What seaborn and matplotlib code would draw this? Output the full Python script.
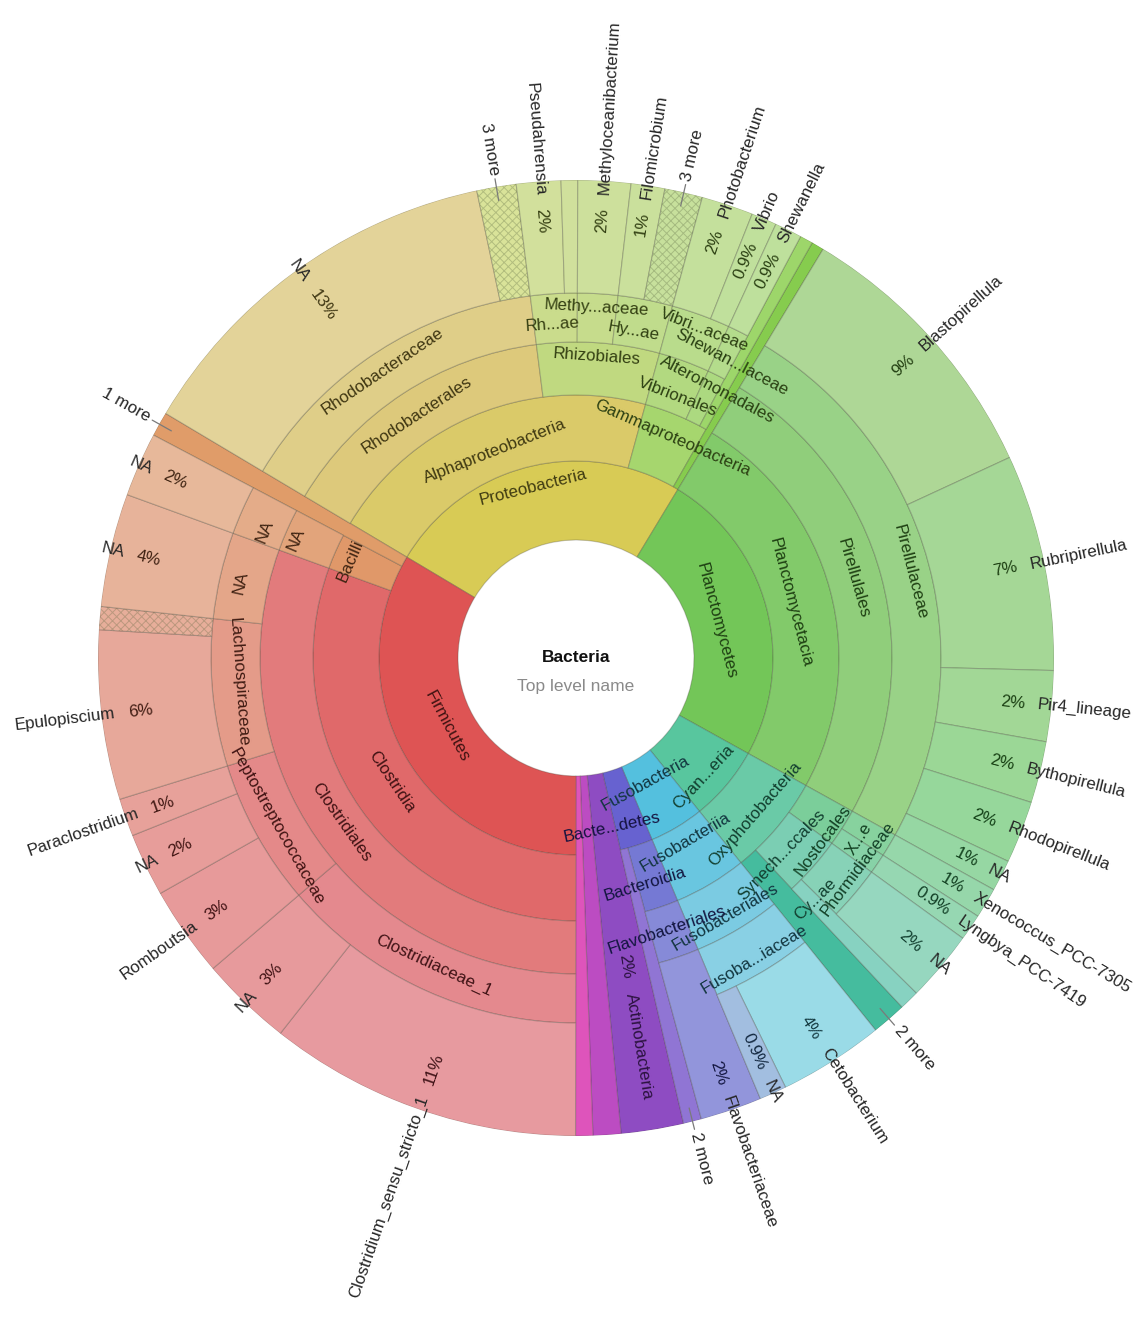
import colorsys
import numpy as np
import matplotlib
matplotlib.use("Agg")
import matplotlib.pyplot as plt
import seaborn as sns

# ── Krona-style taxonomy: leaves listed clockwise from the Proteobacteria edge ──
LEAF_PATHS = [
    ("Proteobacteria", "Alphaproteobacteria", "Rhodobacterales", "Rhodobacteraceae", "NA"),
    ("Proteobacteria", "Alphaproteobacteria", "Rhodobacterales", "Rhodobacteraceae", "3 more"),
    ("Proteobacteria", "Alphaproteobacteria", "Rhizobiales", "Rhodobiaceae", "Pseudahrensia"),
    ("Proteobacteria", "Alphaproteobacteria", "Rhizobiales", "Rhodobiaceae", "-"),
    ("Proteobacteria", "Alphaproteobacteria", "Rhizobiales", "Methyloligellaceae", "Methyloceanibacterium"),
    ("Proteobacteria", "Alphaproteobacteria", "Rhizobiales", "Hyphomicrobiaceae", "Filomicrobium"),
    ("Proteobacteria", "Alphaproteobacteria", "Rhizobiales", "Hyphomicrobiaceae", "3 more"),
    ("Proteobacteria", "Gammaproteobacteria", "Vibrionales", "Vibrionaceae", "Photobacterium"),
    ("Proteobacteria", "Gammaproteobacteria", "Vibrionales", "Vibrionaceae", "Vibrio"),
    ("Proteobacteria", "Gammaproteobacteria", "Alteromonadales", "Shewanellaceae", "Shewanella"),
    ("Proteobacteria", "Gammaproteobacteria", "-"),
    ("Proteobacteria", "-"),
    ("Planctomycetes", "Planctomycetacia", "Pirellulales", "Pirellulaceae", "Blastopirellula"),
    ("Planctomycetes", "Planctomycetacia", "Pirellulales", "Pirellulaceae", "Rubripirellula"),
    ("Planctomycetes", "Planctomycetacia", "Pirellulales", "Pirellulaceae", "Pir4_lineage"),
    ("Planctomycetes", "Planctomycetacia", "Pirellulales", "Pirellulaceae", "Bythopirellula"),
    ("Planctomycetes", "Planctomycetacia", "Pirellulales", "Pirellulaceae", "Rhodopirellula"),
    ("Planctomycetes", "Planctomycetacia", "Pirellulales", "Pirellulaceae", "NA"),
    ("Cyanobacteria", "Oxyphotobacteria", "Nostocales", "Xenococcaceae", "Xenococcus_PCC-7305"),
    ("Cyanobacteria", "Oxyphotobacteria", "Nostocales", "Phormidiaceae", "Lyngbya_PCC-7419"),
    ("Cyanobacteria", "Oxyphotobacteria", "Synechococcales", "Cyanobiaceae", "NA"),
    ("Cyanobacteria", "Oxyphotobacteria", "Synechococcales", "-"),
    ("Cyanobacteria", "Oxyphotobacteria", "2 more"),
    ("Fusobacteria", "Fusobacteriia", "Fusobacteriales", "Fusobacteriaceae", "Cetobacterium"),
    ("Fusobacteria", "Fusobacteriia", "Fusobacteriales", "Fusobacteriaceae", "NA"),
    ("Bacteroidetes", "Bacteroidia", "Flavobacteriales", "Flavobacteriaceae"),
    ("Bacteroidetes", "2 more"),
    ("Actinobacteria",),
    ("unclassified_1",),
    ("unclassified_2",),
    ("Firmicutes", "Clostridia", "Clostridiales", "Clostridiaceae_1", "Clostridium_sensu_stricto_1"),
    ("Firmicutes", "Clostridia", "Clostridiales", "Clostridiaceae_1", "NA"),
    ("Firmicutes", "Clostridia", "Clostridiales", "Peptostreptococcaceae", "Romboutsia"),
    ("Firmicutes", "Clostridia", "Clostridiales", "Peptostreptococcaceae", "NA"),
    ("Firmicutes", "Clostridia", "Clostridiales", "Peptostreptococcaceae", "Paraclostridium"),
    ("Firmicutes", "Clostridia", "Clostridiales", "Lachnospiraceae", "Epulopiscium"),
    ("Firmicutes", "Clostridia", "Clostridiales", "Lachnospiraceae", "-"),
    ("Firmicutes", "Clostridia", "Clostridiales", "NA", "NA"),
    ("Firmicutes", "Bacilli", "NA", "NA", "NA"),
    ("Firmicutes", "1 more"),
]

# share of all reads, in percent
LEAF_VALUES = [
    13.11, 1.33, 1.50, 0.56, 1.78, 1.14, 1.28, 1.75, 0.86, 0.92, 0.44, 0.42,
    9.45, 7.31, 2.39, 2.08, 2.11, 1.06,
    1.03, 0.89, 2.39, 0.67, 1.17,
    3.56, 0.92,
    2.08, 0.61,
    2.11, 0.94, 0.58,
    10.60, 3.12, 3.06, 2.14, 1.28, 5.72, 0.78, 3.83, 2.17, 0.83,
]

# how each leaf is labelled: outer name + %, "N more" leader, inside text, nothing
LEAF_KIND = [
    "name", "more", "name", "none", "name", "name", "more", "name", "name", "name", "none", "none",
    "name", "name", "name", "name", "name", "name",
    "name", "name", "name", "none", "more",
    "name", "name",
    "name", "more",
    "inside", "none", "none",
    "name", "name", "name", "name", "name", "name", "none", "name", "name", "more",
]

HATCHED = [1, 6, 36]

# Krona shortens names that do not fit their wedge
SHORT_NAMES = {
    ("Proteobacteria", "Alphaproteobacteria", "Rhizobiales", "Rhodobiaceae"): "Rh...ae",
    ("Proteobacteria", "Alphaproteobacteria", "Rhizobiales", "Methyloligellaceae"): "Methy...aceae",
    ("Proteobacteria", "Alphaproteobacteria", "Rhizobiales", "Hyphomicrobiaceae"): "Hy...ae",
    ("Proteobacteria", "Gammaproteobacteria", "Vibrionales", "Vibrionaceae"): "Vibri...aceae",
    ("Proteobacteria", "Gammaproteobacteria", "Alteromonadales", "Shewanellaceae"): "Shewan...laceae",
    ("Cyanobacteria",): "Cyan...eria",
    ("Cyanobacteria", "Oxyphotobacteria", "Synechococcales"): "Synech...ccales",
    ("Cyanobacteria", "Oxyphotobacteria", "Synechococcales", "Cyanobiaceae"): "Cy...ae",
    ("Cyanobacteria", "Oxyphotobacteria", "Nostocales", "Xenococcaceae"): "X...e",
    ("Fusobacteria", "Fusobacteriia", "Fusobacteriales", "Fusobacteriaceae"): "Fusoba...iaceae",
    ("Bacteroidetes",): "Bacte...detes",
}

# ── layout ────────────────────────────────────────────────────────────────
RINGS = [118, 197, 263, 316, 365, 478]      # ring edges in pixels
START = 300.8                                 # compass angle of the first leaf
PCT_R, NAME_R = 451, 464
FS = 12.2

# where Krona put the inner labels (compass angle, radius)
LABEL_AT = {
    ("Proteobacteria",): (345.9, 176),
    ("Planctomycetes",): (75, 145),
    ("Firmicutes",): (242, 146),
    ("Cyanobacteria",): (133, 174),
    ("Fusobacteria",): (151, 143),
    ("Bacteroidetes",): (168, 173),
    ("Proteobacteria", "Alphaproteobacteria"): (338.5, 222),
    ("Proteobacteria", "Gammaproteobacteria"): (23.7, 240),
    ("Planctomycetes", "Planctomycetacia"): (75.4, 222),
    ("Firmicutes", "Clostridia"): (236, 222),
    ("Firmicutes", "Bacilli"): (293.4, 246),
    ("Cyanobacteria", "Oxyphotobacteria"): (131, 238),
    ("Fusobacteria", "Fusobacteriia"): (149.4, 214),
    ("Bacteroidetes", "Bacteroidia"): (163, 237),
    ("Proteobacteria", "Alphaproteobacteria", "Rhodobacterales"): (326.8, 290),
    ("Proteobacteria", "Alphaproteobacteria", "Rhizobiales"): (4, 302),
    ("Proteobacteria", "Gammaproteobacteria", "Vibrionales"): (21.2, 280),
    ("Proteobacteria", "Gammaproteobacteria", "Alteromonadales"): (27.8, 303),
    ("Planctomycetes", "Planctomycetacia", "Pirellulales"): (74, 288),
    ("Firmicutes", "Clostridia", "Clostridiales"): (235, 286),
    ("Firmicutes", "Bacilli", "NA"): (293, 304),
    ("Cyanobacteria", "Oxyphotobacteria", "Synechococcales"): (133.7, 285),
    ("Cyanobacteria", "Oxyphotobacteria", "Nostocales"): (126.4, 307),
    ("Fusobacteria", "Fusobacteriia", "Fusobacteriales"): (150, 299),
    ("Bacteroidetes", "Bacteroidia", "Flavobacteriales"): (161.5, 287),
    ("Proteobacteria", "Alphaproteobacteria", "Rhodobacterales", "Rhodobacteraceae"): (326, 346),
    ("Proteobacteria", "Alphaproteobacteria", "Rhizobiales", "Rhodobiaceae"): (356, 334),
    ("Proteobacteria", "Alphaproteobacteria", "Rhizobiales", "Methyloligellaceae"): (3.3, 351),
    ("Proteobacteria", "Alphaproteobacteria", "Rhizobiales", "Hyphomicrobiaceae"): (10, 332),
    ("Proteobacteria", "Gammaproteobacteria", "Vibrionales", "Vibrionaceae"): (21.4, 352),
    ("Proteobacteria", "Gammaproteobacteria", "Alteromonadales", "Shewanellaceae"): (27.9, 334),
    ("Planctomycetes", "Planctomycetacia", "Pirellulales", "Pirellulaceae"): (75.5, 345),
    ("Firmicutes", "Clostridia", "Clostridiales", "Clostridiaceae_1"): (204.8, 339),
    ("Firmicutes", "Clostridia", "Clostridiales", "Peptostreptococcaceae"): (240.6, 343),
    ("Firmicutes", "Clostridia", "Clostridiales", "Lachnospiraceae"): (266, 338),
    ("Firmicutes", "Clostridia", "Clostridiales", "NA"): (282.6, 344),
    ("Firmicutes", "Bacilli", "NA", "NA"): (292.2, 336),
    ("Fusobacteria", "Fusobacteriia", "Fusobacteriales", "Fusobacteriaceae"): (149.3, 350),
    ("Cyanobacteria", "Oxyphotobacteria", "Synechococcales", "Cyanobiaceae"): (135.2, 340),
    ("Cyanobacteria", "Oxyphotobacteria", "Nostocales", "Xenococcaceae"): (122.5, 336),
    ("Cyanobacteria", "Oxyphotobacteria", "Nostocales", "Phormidiaceae"): (126.7, 352),
}

# hue as a function of (unwrapped) compass angle, as in the Krona colouring
HUE_T = [180, 200, 220, 240, 255, 270, 285, 300, 320, 335, 346, 351, 370, 390, 420, 460, 479,
         490, 501, 510, 518, 523, 531, 536, 540]
HUE_H = [350, 356, 358, 360, 368, 374, 380, 386, 406, 410, 414, 430, 440, 452, 462, 470, 495,
         518, 535, 555, 580, 608, 634, 655, 682]
LIGHT = [0.60, 0.645, 0.685, 0.715, 0.755]
SAT = [0.68, 0.66, 0.64, 0.63, 0.62]
COLOR_OVERRIDE = {
    ("Proteobacteria", "-"): "#86cc4e",
    ("Proteobacteria", "Gammaproteobacteria", "-"): "#9dd66a",
    ("Cyanobacteria", "Oxyphotobacteria", "2 more"): "#45bc9e",
}


def node_hue(center):
    t = center if center < 540 else center - 360
    return np.interp(t, HUE_T, HUE_H) % 360


def node_color(depth, center):
    h = node_hue(center)
    s, l = SAT[depth - 1], LIGHT[depth - 1]
    if 95 <= h < 170:          # greens read lighter, Krona keeps them darker
        s, l = s * 0.72, l - 0.04
    elif 70 < h < 95:
        s, l = s * 0.84, l - 0.01
    elif 45 <= h <= 70:
        s, l = s * 0.92, l - 0.01
    elif 205 < h < 260:
        s = s * 0.8
    elif 260 <= h < 300:
        s, l = s * 0.72, l - 0.07
    return colorsys.hls_to_rgb(h / 360, l, s)


def text_color(center):
    return colorsys.hls_to_rgb(node_hue(center) / 360, 0.16, 0.55)


def tangential_rot(th):
    rot = (-th) % 180
    return rot - 180 if rot > 90 else rot


def radial_rot(th):
    th = th % 360
    if th < 180:
        return 90 - th, True
    return 270 - th, False


def pct_text(v):
    return f"{v:.1f}%" if v < 1 else f"{int(v + 0.5)}%"


sns.set_theme(style="white")
plt.rcParams["font.family"] = ["Liberation Sans", "DejaVu Sans"]
plt.rcParams["hatch.linewidth"] = 0.7

# ── angular extent of every node ──────────────────────────────────────────
scale = 360.0 / sum(LEAF_VALUES)
spans = {}
pos = START
leaf_span = []
for path, v in zip(LEAF_PATHS, LEAF_VALUES):
    a0, a1 = pos, pos + v * scale
    leaf_span.append((a0, a1))
    for d in range(1, len(path) + 1):
        key = path[:d]
        if key in spans:
            spans[key][1] = a1
        else:
            spans[key] = [a0, a1]
    pos = a1
leaf_set = set(LEAF_PATHS)

W, H = 1139, 1322
CX, CY, R = 576, 658, RINGS[-1]
fig = plt.figure(figsize=(W / 100, H / 100), dpi=100)
ax = fig.add_axes([(CX - R) / W, (H - CY - R) / H, 2 * R / W, 2 * R / H], projection="polar")
ax.set_theta_zero_location("N")
ax.set_theta_direction(-1)
ax.set_ylim(0, R)
ax.set_axis_off()

# wedges, inner rings first
for key in sorted(spans, key=len):
    a0, a1 = spans[key]
    d = len(key)
    r0 = RINGS[d - 1]
    r1 = RINGS[-1] if key in leaf_set else RINGS[d]
    mid = (a0 + a1) / 2
    fill = COLOR_OVERRIDE.get(key, node_color(d, mid))
    ax.bar(np.deg2rad(mid), r1 - r0, width=np.deg2rad(a1 - a0), bottom=r0,
           color=fill, edgecolor=(0.25, 0.25, 0.2, 0.28), linewidth=0.8)

for i in HATCHED:
    path = LEAF_PATHS[i]
    a0, a1 = leaf_span[i]
    r0 = RINGS[len(path) - 1]
    ax.bar(np.deg2rad((a0 + a1) / 2), RINGS[-1] - r0, width=np.deg2rad(a1 - a0), bottom=r0,
           facecolor="none", edgecolor=(0.35, 0.4, 0.25, 0.3), hatch="xxxx", linewidth=0)

# inner labels
for key, (th, r) in LABEL_AT.items():
    name = SHORT_NAMES.get(key, key[-1])
    a0, a1 = spans[key]
    ax.text(np.deg2rad(th), r, name, rotation=tangential_rot(th), rotation_mode="anchor",
            ha="center", va="center", fontsize=FS, color=text_color((a0 + a1) / 2))

# leaf labels
for path, v, kind, (a0, a1) in zip(LEAF_PATHS, LEAF_VALUES, LEAF_KIND, leaf_span):
    mid = (a0 + a1) / 2
    th = np.deg2rad(mid)
    rot, outward = radial_rot(mid)
    if kind == "name":
        ax.text(th, PCT_R, pct_text(v), rotation=rot, rotation_mode="anchor",
                ha="right" if outward else "left", va="center", fontsize=FS,
                color=text_color(mid))
        ax.text(th, NAME_R, path[-1], rotation=rot, rotation_mode="anchor",
                ha="left" if outward else "right", va="center", fontsize=FS, color="#262626")
    elif kind == "more":
        ax.plot([th, th], [R - 14, R + 8], color="#7a7a7a", lw=0.9, clip_on=False)
        ax.text(th, R + 12, path[-1], rotation=rot, rotation_mode="anchor",
                ha="left" if outward else "right", va="center", fontsize=FS, color="#262626")
    elif kind == "inside":
        ax.text(th, 312, pct_text(v), rotation=rot, rotation_mode="anchor",
                ha="center", va="center", fontsize=FS, color=text_color(mid))
        ax.text(th, 393, path[-1], rotation=rot, rotation_mode="anchor",
                ha="center", va="center", fontsize=FS, color=text_color(mid))

fig.text(CX / W, 1 - 657 / H, "Bacteria", ha="center", va="center",
         fontsize=12.5, fontweight="bold", color="#111111")
fig.text(CX / W, 1 - 686 / H, "Top level name", ha="center", va="center",
         fontsize=12.5, color="#8a8a8a")

fig.savefig("out.png", dpi=100)
plt.close(fig)
